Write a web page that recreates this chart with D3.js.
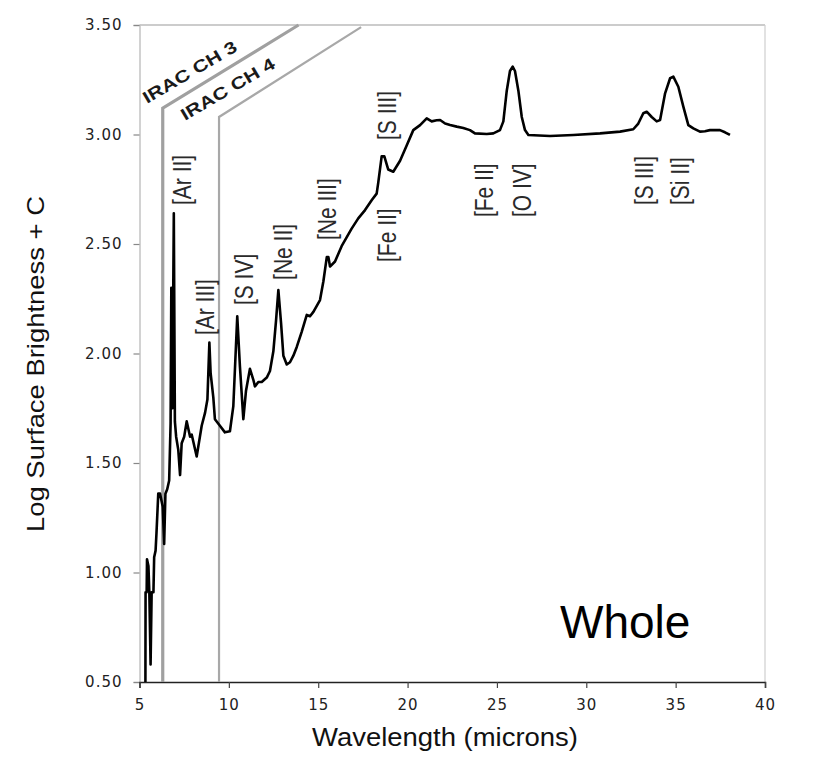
<!DOCTYPE html>
<html>
<head>
<meta charset="utf-8">
<script src="https://cdn.jsdelivr.net/npm/d3@7"></script>
<style>
  html, body { margin: 0; padding: 0; background: #fff; }
  svg { display: block; }
</style>
</head>
<body>
<svg id="chart" width="830" height="768"></svg>
<script>
// ---- data ----
const wavelength = [5.33, 5.34, 5.40, 5.42, 5.50, 5.55, 5.62, 5.68, 5.78, 5.82, 5.90, 5.95, 6.05, 6.15, 6.30, 6.38, 6.45, 6.55, 6.66, 6.74, 6.78, 6.84, 6.92, 6.98, 7.05, 7.17, 7.27, 7.36, 7.50, 7.64, 7.83, 7.92, 8.20, 8.48, 8.67, 8.80, 8.91, 8.98, 9.13, 9.22, 9.50, 9.78, 10.06, 10.25, 10.47, 10.62, 10.81, 10.96, 11.18, 11.37, 11.46, 11.65, 11.84, 12.12, 12.30, 12.49, 12.64, 12.77, 12.92, 13.05, 13.24, 13.42, 13.61, 13.80, 14.08, 14.36, 14.54, 14.73, 15.10, 15.29, 15.48, 15.57, 15.66, 15.94, 16.31, 16.59, 16.87, 17.24, 17.62, 17.99, 18.27, 18.36, 18.55, 18.70, 18.92, 19.20, 19.58, 19.95, 20.32, 20.70, 21.07, 21.35, 21.63, 21.82, 22.10, 22.38, 22.75, 23.12, 23.49, 23.77, 24.43, 24.80, 25.17, 25.36, 25.55, 25.73, 25.88, 26.01, 26.20, 26.39, 26.57, 26.76, 27.97, 29.28, 30.77, 31.89, 32.63, 32.91, 33.19, 33.38, 33.66, 33.94, 34.13, 34.41, 34.69, 34.87, 35.15, 35.43, 35.71, 35.99, 36.36, 36.64, 36.92, 37.48, 37.76, 38.04];
const brightness = [0.45, 0.91, 0.91, 1.06, 1.03, 0.91, 0.58, 0.91, 0.91, 1.07, 1.10, 1.18, 1.36, 1.36, 1.30, 1.13, 1.36, 1.38, 1.42, 1.68, 2.30, 1.75, 2.64, 1.69, 1.62, 1.56, 1.445, 1.59, 1.62, 1.69, 1.62, 1.63, 1.53, 1.67, 1.73, 1.79, 2.05, 1.91, 1.80, 1.70, 1.67, 1.64, 1.645, 1.76, 2.17, 1.94, 1.70, 1.83, 1.93, 1.88, 1.85, 1.87, 1.87, 1.89, 1.92, 2.01, 2.15, 2.29, 2.14, 1.99, 1.95, 1.96, 1.99, 2.03, 2.10, 2.176, 2.17, 2.19, 2.244, 2.33, 2.44, 2.44, 2.397, 2.42, 2.49, 2.53, 2.57, 2.617, 2.655, 2.70, 2.73, 2.78, 2.90, 2.90, 2.84, 2.83, 2.88, 2.95, 3.02, 3.043, 3.074, 3.06, 3.065, 3.066, 3.05, 3.043, 3.036, 3.03, 3.02, 3.005, 3.002, 3.005, 3.02, 3.06, 3.20, 3.29, 3.31, 3.29, 3.20, 3.08, 3.02, 2.998, 2.993, 2.998, 3.005, 3.013, 3.024, 3.05, 3.097, 3.104, 3.08, 3.06, 3.066, 3.188, 3.257, 3.264, 3.218, 3.127, 3.043, 3.028, 3.013, 3.015, 3.02, 3.02, 3.01, 2.998];

const xTickValues = [5, 10, 15, 20, 25, 30, 35, 40];
const yTickValues = [0.5, 1.0, 1.5, 2.0, 2.5, 3.0, 3.5];

// IRAC band edges (wavelength, value)
const irac3Wave = [6.30, 6.30, 13.90];
const irac3Val  = [0.50, 3.12, 3.50];
const irac4Wave = [9.45, 9.45, 17.40];
const irac4Val  = [0.50, 3.08, 3.49];

// emission line labels: text, wavelength, value at label start
const lineLabels = ["[Ar II]", "[Ar III]", "[S IV]", "[Ne II]", "[Ne III]", "[S III]", "[Fe II]", "[Fe II]", "[O IV]", "[S III]", "[Si II]"];
const labelWave  = [7.88, 9.17, 11.35, 13.53, 16.00, 19.35, 19.35, 24.78, 26.91, 33.74, 35.75];
const labelVal   = [2.678, 2.084, 2.221, 2.336, 2.518, 2.975, 2.418, 2.623, 2.623, 2.678, 2.678];

// ---- drawing ----
const svg = d3.select("#chart");
const W = 830, H = 768;
const pLeft = 139.5, pRight = 765, pTop = 25, pBottom = 682;

const x = d3.scaleLinear().domain([5, 40]).range([pLeft, pRight]);
const y = d3.scaleLinear().domain([0.5, 3.5]).range([pBottom, pTop]);

svg.append("rect").attr("width", W).attr("height", H).attr("fill", "#fff");

svg.append("defs").append("clipPath").attr("id", "plotclip")
  .append("rect").attr("x", pLeft).attr("y", pTop).attr("width", pRight - pLeft).attr("height", pBottom - pTop);

// frame
svg.append("line").attr("x1", pLeft).attr("x2", pRight).attr("y1", pTop).attr("y2", pTop)
  .attr("stroke", "#9a9a9a").attr("stroke-width", 1.2);
svg.append("line").attr("x1", pRight).attr("x2", pRight).attr("y1", pTop).attr("y2", pBottom)
  .attr("stroke", "#cfcfcf").attr("stroke-width", 1.2);

// y axis
const yAxis = svg.append("g").attr("transform", `translate(${pLeft},0)`)
  .call(d3.axisLeft(y).tickValues(yTickValues).tickFormat(d3.format(".2f")).tickSize(6).tickPadding(11));
yAxis.select(".domain").attr("stroke", "#c4c4c4").attr("stroke-width", 1.5);
yAxis.selectAll(".tick line").attr("stroke", "#888").attr("stroke-width", 1.2);
yAxis.selectAll(".tick text").attr("font-family", "DejaVu Sans, sans-serif").attr("font-size", 15)
  .attr("letter-spacing", 1).attr("fill", "#222");

// x axis
const xAxis = svg.append("g").attr("transform", `translate(0,${pBottom})`)
  .call(d3.axisBottom(x).tickValues(xTickValues).tickFormat(d3.format("d")).tickSize(6).tickPadding(11));
xAxis.select(".domain").attr("stroke", "#222").attr("stroke-width", 1.5);
xAxis.selectAll(".tick line").attr("stroke", "#444").attr("stroke-width", 1.2);
xAxis.selectAll(".tick text").attr("font-family", "DejaVu Sans, sans-serif").attr("font-size", 15)
  .attr("letter-spacing", 1).attr("fill", "#222");

// IRAC band lines
const pathLine = d3.line().x(d => x(d[0])).y(d => y(d[1]));
svg.append("path").datum(d3.zip(irac3Wave, irac3Val)).attr("d", pathLine)
  .attr("fill", "none").attr("stroke", "#a0a0a0").attr("stroke-width", 3.2).attr("stroke-linejoin", "miter");
svg.append("path").datum(d3.zip(irac4Wave, irac4Val)).attr("d", pathLine)
  .attr("fill", "none").attr("stroke", "#a8a8a8").attr("stroke-width", 2.2).attr("stroke-linejoin", "miter");

// IRAC labels
svg.append("text").attr("transform", `translate(147,104) rotate(-30.5)`)
  .attr("font-family", "Liberation Sans, Arial, sans-serif").attr("font-weight", "bold").attr("font-size", 17)
  .attr("textLength", 106).attr("lengthAdjust", "spacingAndGlyphs").attr("fill", "#1a1a1a").text("IRAC CH 3");
svg.append("text").attr("transform", `translate(185,121) rotate(-30.5)`)
  .attr("font-family", "Liberation Sans, Arial, sans-serif").attr("font-weight", "bold").attr("font-size", 17)
  .attr("textLength", 106).attr("lengthAdjust", "spacingAndGlyphs").attr("fill", "#1a1a1a").text("IRAC CH 4");

// spectrum
svg.append("path").datum(d3.zip(wavelength, brightness)).attr("d", pathLine)
  .attr("clip-path", "url(#plotclip)")
  .attr("fill", "none").attr("stroke", "#000").attr("stroke-width", 2.6)
  .attr("stroke-linejoin", "round").attr("stroke-linecap", "butt");

// emission line labels
svg.append("g").selectAll("text").data(lineLabels).join("text")
  .attr("transform", (d, i) => `translate(${x(labelWave[i])},${y(labelVal[i])}) rotate(-90) scale(1,1.2)`)
  .attr("font-family", "Liberation Sans, Arial, sans-serif").attr("font-size", 21)
  .attr("fill", "#2a2a2a").text(d => d);

// "Whole"
svg.append("text").attr("x", 560).attr("y", 638)
  .attr("font-family", "Liberation Sans, Arial, sans-serif").attr("font-size", 46).attr("fill", "#000").text("Whole");

// axis titles
svg.append("text").attr("x", 445).attr("y", 746).attr("text-anchor", "middle")
  .attr("font-family", "Liberation Sans, Arial, sans-serif").attr("font-size", 25)
  .attr("textLength", 266).attr("lengthAdjust", "spacingAndGlyphs").attr("fill", "#111")
  .text("Wavelength (microns)");
svg.append("text").attr("transform", "translate(44,364) rotate(-90)").attr("text-anchor", "middle")
  .attr("font-family", "Liberation Sans, Arial, sans-serif").attr("font-size", 24)
  .attr("textLength", 336).attr("lengthAdjust", "spacingAndGlyphs").attr("fill", "#111")
  .text("Log Surface Brightness + C");
</script>
</body>
</html>
